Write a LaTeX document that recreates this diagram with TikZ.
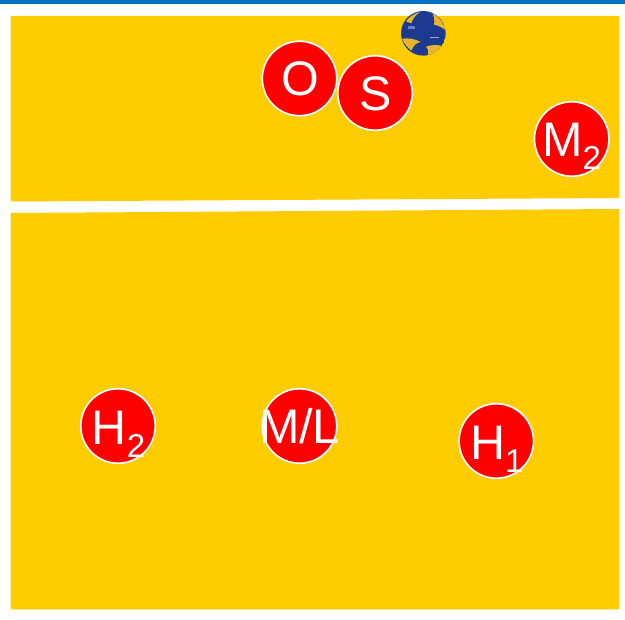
\documentclass[tikz,border=0pt]{standalone}
\usepackage{fontspec}
\setmainfont{Liberation Sans}
\definecolor{court}{HTML}{FFCC00}
\definecolor{topbar}{HTML}{0070C0}
\definecolor{ballblue}{HTML}{1C3A8F}
\definecolor{ballyellow}{HTML}{E9B52E}
\tikzset{
  player/.style={circle,draw=white,line width=1.7pt,fill=red,minimum size=74.5pt,inner sep=0pt,text=white},
  courtpart/.style={fill=court,draw=none},
  panel/.style={fill=ballyellow,draw=none}
}
% #1 drop of the baseline, #2 letters, #3 subscript
\newcommand{\lab}[3]{\makebox[0pt][c]{\raisebox{-#1}[0pt][0pt]{\fontsize{48.5}{48.5}\selectfont #2\raisebox{-13pt}{\fontsize{33}{33}\selectfont #3}}}}
\begin{document}
\begin{tikzpicture}[x=1pt,y=-1pt]
\useasboundingbox (0,0) rectangle (625,620);
\fill[white] (0,0) rectangle (625,620);
\fill[topbar] (0,0) rectangle (625,4);
\fill[courtpart] (10.5,16) -- (619,16) -- (619,198) -- (10.5,201.5) -- cycle;
\fill[courtpart] (10.5,213) -- (619,209) -- (619,609.5) -- (10.5,609.5) -- cycle;
% ball, drawn in the 3x crop's coordinates
\begin{scope}[shift={(398,8)},x=0.3333pt,y=-0.3333pt]
\clip (76,76) circle (67);
\fill[ballblue] (76,76) circle (67);
\fill[panel] (24,40) .. controls (34,26) and (50,16) .. (66,12) .. controls (52,22) and (44,32) .. (40,46) .. controls (35,43) and (30,41) .. (24,40) -- cycle;
\fill[panel] (104,16) .. controls (122,24) and (136,42) .. (142,66) .. controls (132,58) and (120,52) .. (108,50) .. controls (110,40) and (109,28) .. (104,16) -- cycle;
\fill[panel] (12,92) .. controls (32,90) and (50,92) .. (68,102) .. controls (56,104) and (46,112) .. (40,128) .. controls (28,118) and (18,106) .. (12,92) -- cycle;
\fill[panel] (84,116) .. controls (100,110) and (118,110) .. (134,114) .. controls (122,128) and (106,138) .. (90,142) .. controls (93,134) and (91,124) .. (84,116) -- cycle;
\fill[white!55!ballblue] (96,86) rectangle (124,91);
\fill[white!35!ballblue] (30,54) rectangle (50,64);
\end{scope}
\node[player] (o) at (299.5,78.5) {\hspace{1pt}\lab{17pt}{O}{}};
\node[player] (s) at (375,93) {\hspace{1pt}\lab{18pt}{S}{}};
\node[player] (m2) at (571.7,139) {\lab{18pt}{M}{2}};
\node[player] (h2) at (118,426) {\hspace{1pt}\lab{19pt}{H}{2}};
\node[player] (ml) at (299.5,426) {\lab{18pt}{M/L}{}};
\node[player] (h1) at (496.3,441) {\hspace{1pt}\lab{19pt}{H}{1}};
\end{tikzpicture}
\end{document}
